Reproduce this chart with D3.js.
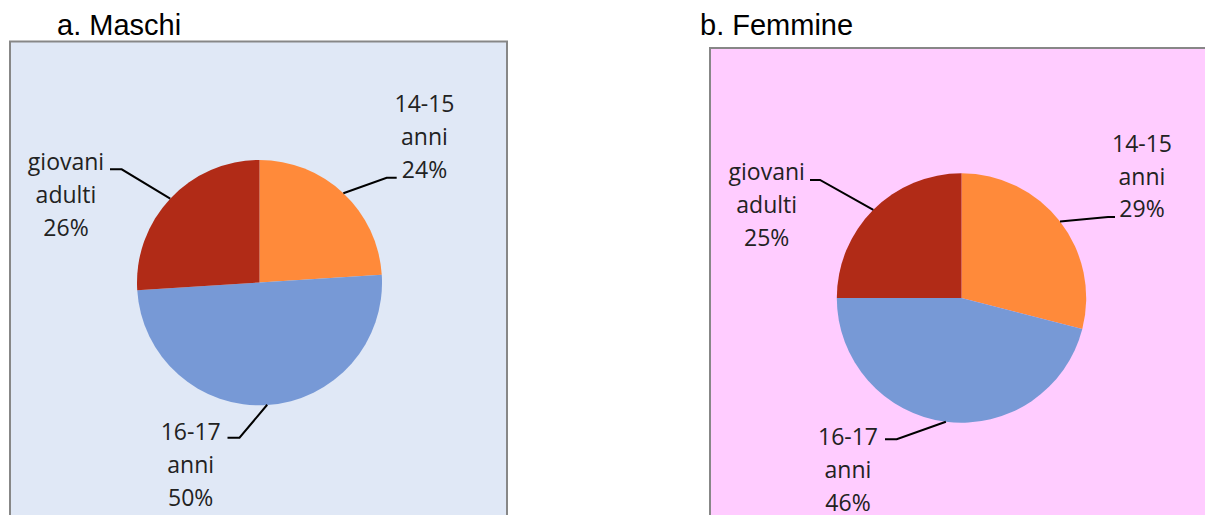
<!DOCTYPE html>
<html>
<head>
<meta charset="utf-8">
<script src="https://cdn.jsdelivr.net/npm/d3@7"></script>
<style>
  body { margin: 0; background: #fff; }
  svg { display: block; }
</style>
</head>
<body>
<div id="vis"></div>
<script>
var width = 1205,
    height = 515;

// data
var categories = ["14-15 anni", "16-17 anni", "giovani adulti"];
var labelLines = [["14-15", "anni"], ["16-17", "anni"], ["giovani", "adulti"]];
var maschi = [24, 50, 26];
var femmine = [29, 46, 25];
var titles = ["a. Maschi", "b. Femmine"];
var sliceColors = ["#FF8A3A", "#7799D6", "#B12B17"];

// layout of the two panels (label offsets are relative to the pie centre)
var panels = [
  { title: titles[0], values: maschi, bg: "#E0E8F6",
    box: [10, 41.5, 497, 500], titleX: 57, cx: 259.5, cy: 282.5, r: 122.5,
    labels: [
      { tx: 165, ty: -170.2, elbow: [127.2, -104.8], end: [137.2, -104.8] },
      { tx: -68.8, ty: 157.5, elbow: [-20, 155.2], end: [-32, 155.2] },
      { tx: -193.5, ty: -112.5, elbow: [-137.8, -113.2], end: [-149.5, -113.2] }
    ] },
  { title: titles[1], values: femmine, bg: "#FFCCFF",
    box: [710, 48, 520, 500], titleX: 700, cx: 961.5, cy: 298, r: 124.7,
    labels: [
      { tx: 180.5, ty: -146.3, elbow: [146.5, -81], end: [153.5, -81] },
      { tx: -113.5, ty: 147, elbow: [-64.8, 141.3], end: [-76.5, 141.3] },
      { tx: -194.8, ty: -118, elbow: [-141.5, -118], end: [-151.5, -118] }
    ] }
];

var lineHeight = 32.8;

var svg = d3.select("#vis").append("svg")
    .attr("width", width)
    .attr("height", height);

var pie = d3.pie().sort(null).value(function(d) { return d; });

panels.forEach(function(p) {
  svg.append("rect")
      .attr("x", p.box[0])
      .attr("y", p.box[1])
      .attr("width", p.box[2])
      .attr("height", p.box[3])
      .style("fill", p.bg)
      .style("stroke", "#878787")
      .style("stroke-width", 2);

  svg.append("text")
      .attr("x", p.titleX)
      .attr("y", 34.5)
      .style("font-family", "'Liberation Sans', Arial, sans-serif")
      .style("font-size", "29px")
      .style("fill", "#000")
      .text(p.title);

  var g = svg.append("g")
      .attr("transform", "translate(" + p.cx + "," + p.cy + ")");

  var arc = d3.arc().innerRadius(0).outerRadius(p.r);
  var arcs = pie(p.values);

  g.selectAll("path.slice")
      .data(arcs)
      .enter()
      .append("path")
      .attr("class", "slice")
      .attr("d", arc)
      .style("fill", function(d, i) { return sliceColors[i]; });

  // leader lines from the middle of each slice's rim
  g.selectAll("path.leader")
      .data(arcs)
      .enter()
      .append("path")
      .attr("class", "leader")
      .attr("d", function(d, i) {
        var a = (d.startAngle + d.endAngle) / 2;
        var sx = p.r * Math.sin(a), sy = -p.r * Math.cos(a);
        var L = p.labels[i];
        return "M" + sx + "," + sy + "L" + L.elbow[0] + "," + L.elbow[1] + "L" + L.end[0] + "," + L.end[1];
      })
      .style("fill", "none")
      .style("stroke", "#000")
      .style("stroke-width", 2);

  var lbl = g.selectAll("text.lbl")
      .data(arcs)
      .enter()
      .append("text")
      .attr("class", "lbl")
      .attr("text-anchor", "middle")
      .style("font-family", "'Open Sans', sans-serif")
      .style("font-size", "23px")
      .style("fill", "#222");

  lbl.each(function(d, i) {
    var L = p.labels[i];
    var lines = labelLines[i].concat([Math.round(d.value) + "%"]);
    d3.select(this).selectAll("tspan")
        .data(lines)
        .enter()
        .append("tspan")
        .attr("x", L.tx)
        .attr("y", function(t, j) { return L.ty + j * lineHeight; })
        .text(function(t) { return t; });
  });
});
</script>
</body>
</html>
